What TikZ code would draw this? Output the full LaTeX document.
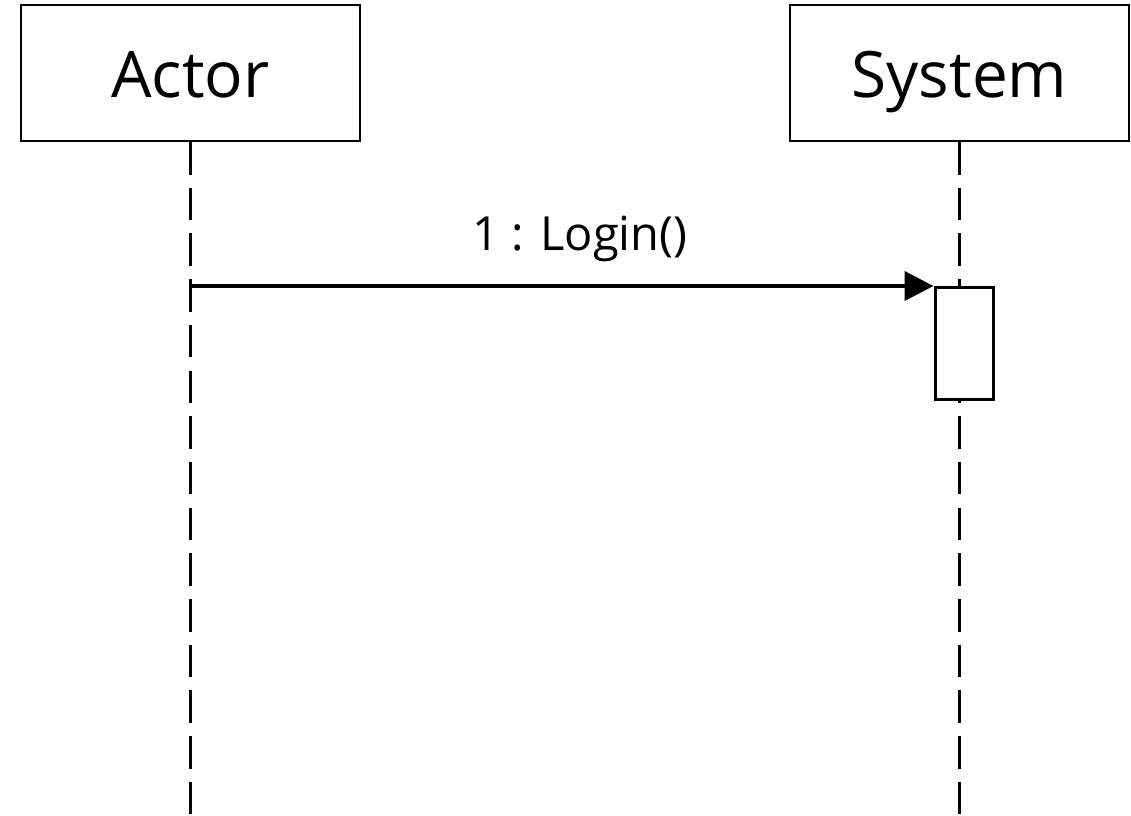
\documentclass[tikz,border=0pt]{standalone}
\usepackage{fontspec}
\setmainfont{Open Sans}
\usetikzlibrary{arrows.meta}

\begin{document}
\begin{tikzpicture}[x=1pt,y=-1pt,
    obj/.style={draw,line width=2pt,minimum width=339pt,minimum height=136pt,inner sep=0pt,text height=48pt,text depth=0pt,font=\fontsize{64}{70}\selectfont},
    life/.style={line width=3.5pt,dash pattern=on 32.5pt off 13.2pt},
    act/.style={draw,fill=white,line width=3pt,minimum width=58pt,minimum height=112pt,inner sep=0pt},
    msg/.style={line width=4pt,-{Triangle[length=29pt,width=29pt]}}]
  \useasboundingbox (0,0) rectangle (1131,815);

  % objects
  \node[obj] (actor) at (190.5,73) {Actor};
  \node[obj] (system) at (959.5,73) {System};

  % lifelines
  \coordinate (actorEnd) at (actor.south |- 0,815);
  \coordinate (systemEnd) at (system.south |- 0,815);
  \draw[life] (actor.south) -- (actorEnd);
  \draw[life] (system.south) -- (systemEnd);

  % activation and message
  \node[act,anchor=north] (login) at (964,286) {};
  \draw[msg] (actor.south |- login.north west) -- (login.north west);
  \node[anchor=base,font=\fontsize{47}{54}\selectfont] (loginLabel) at (580,250) {1 : Login()};
\end{tikzpicture}
\end{document}
